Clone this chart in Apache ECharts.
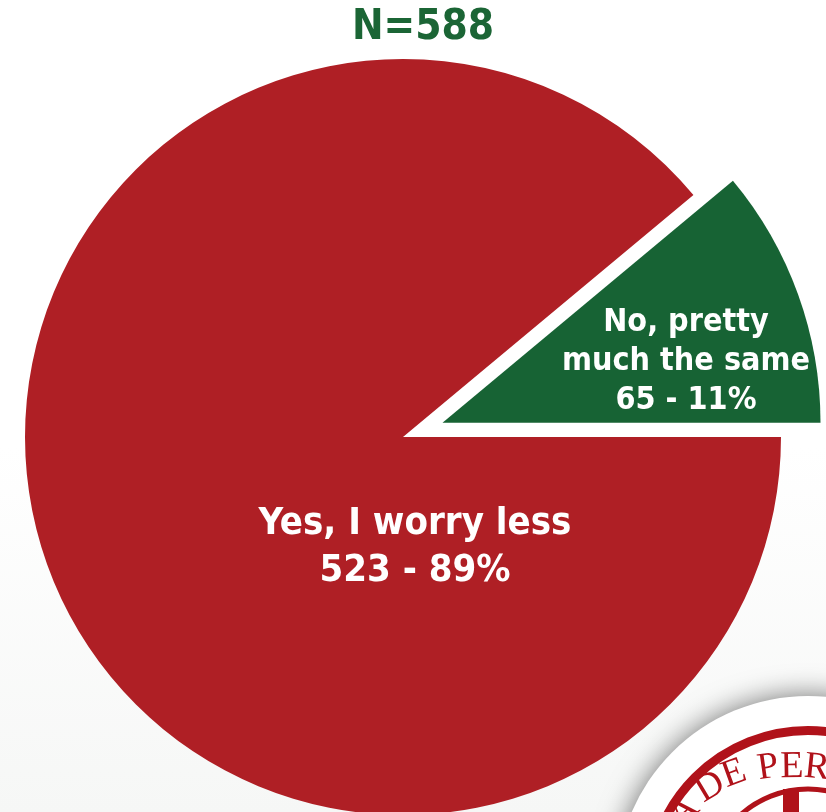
<!DOCTYPE html>
<html>
<head>
<meta charset="utf-8">
<script src="https://cdn.jsdelivr.net/npm/echarts@6/dist/echarts.min.js"></script>
<style>
html,body{margin:0;padding:0;background:#fff;}
#chart{width:826px;height:812px;}
</style>
</head>
<body>
<div id="chart"></div>
<script>
// ---- data ----
var titleText = 'N=588';
var categories = ['Yes, I worry less', 'No, pretty\nmuch the same'];
var counts = [523, 65];
var percents = ['89%', '11%'];
var sliceColors = ['#AF1F25', '#176334'];

var condensed = "'Liberation Sans Narrow', 'DejaVu Sans Condensed', 'Roboto', sans-serif";

var chart = echarts.init(document.getElementById('chart'), null, {renderer: 'canvas'});

var pieCenter = [403, 437];
var pieRadius = 378;
var explodeDist = 42;
var labelSizes = [38, 32];
var labelLH = [47, 39];
var labelPos = [[415, 548], [686, 362]];

// exploded slice: shift its own pie center along the slice's mid angle
var total = counts[0] + counts[1];
var midAngle = (counts[1] / total) * Math.PI; // half of green sweep, measured up from 0°
var explodedCenter = [pieCenter[0] + explodeDist * Math.cos(midAngle),
                      pieCenter[1] - explodeDist * Math.sin(midAngle)];

function makeData(visibleIndex) {
  return categories.map(function (c, i) {
    var vis = i === visibleIndex;
    return {
      name: c,
      value: counts[i],
      itemStyle: {color: vis ? sliceColors[i] : 'rgba(0,0,0,0)'},
      label: {
        show: vis,
        formatter: c + '\n' + counts[i] + ' - ' + percents[i],
        fontSize: labelSizes[i],
        lineHeight: labelLH[i]
      }
    };
  });
}

// decorative seal letters (bottom-right)
var sealLetters = [
  ['A', 684, 812, 42],
  ['D', 710, 787, 31],
  ['E', 734, 774, 20],
  ['P', 768, 768, 8],
  ['E', 792, 767, 1],
  ['R', 817, 768, -6]
];
var sealGraphics = [
  {type: 'circle', z: 10, shape: {cx: 808, cy: 888, r: 192},
   style: {fill: '#ffffff', shadowBlur: 28, shadowColor: 'rgba(0,0,0,0.55)'}},
  {type: 'circle', z: 11, shape: {cx: 808, cy: 890, r: 159.5},
   style: {fill: 'none', stroke: '#B0121A', lineWidth: 9}},
  {type: 'circle', z: 11, shape: {cx: 808, cy: 890, r: 101},
   style: {fill: 'none', stroke: '#B0121A', lineWidth: 5}},
  {type: 'rect', z: 11, shape: {x: 783, y: 789, width: 16, height: 30},
   style: {fill: '#B0121A'}}
];
sealLetters.forEach(function (l) {
  sealGraphics.push({
    type: 'text', z: 12, x: l[1], y: l[2], rotation: l[3] * Math.PI / 180,
    style: {text: l[0], x: 0, y: 0, align: 'center', verticalAlign: 'middle',
            font: '38px "Liberation Serif", "DejaVu Serif", serif', fill: '#B0121A'}
  });
});

function pieSeries(center, visibleIndex) {
  return {
    type: 'pie',
    center: center,
    radius: [0, pieRadius],
    startAngle: 0,
    clockwise: true,
    silent: true,
    avoidLabelOverlap: false,
    emphasis: {disabled: true},
    itemStyle: {borderWidth: 0},
    label: {
      position: 'inside',
      color: '#ffffff',
      fontWeight: 'bold',
      fontFamily: condensed,
      align: 'center'
    },
    labelLine: {show: false},
    labelLayout: function (params) {
      var p = labelPos[params.dataIndex];
      return {x: p[0], y: p[1], align: 'center', verticalAlign: 'middle'};
    },
    data: makeData(visibleIndex)
  };
}

var option = {
  animation: false,
  backgroundColor: {
    type: 'linear', x: 0, y: 0, x2: 0, y2: 1,
    colorStops: [{offset: 0, color: '#ffffff'}, {offset: 0.55, color: '#ffffff'}, {offset: 1, color: '#f6f7f6'}]
  },
  title: {
    text: titleText,
    left: 352, top: 7, padding: 0,
    textStyle: {color: '#1B6535', fontSize: 42, fontWeight: 'bold', fontFamily: condensed}
  },
  graphic: sealGraphics,
  series: [pieSeries(pieCenter, 0), pieSeries(explodedCenter, 1)]
};
chart.setOption(option);
</script>
</body>
</html>
